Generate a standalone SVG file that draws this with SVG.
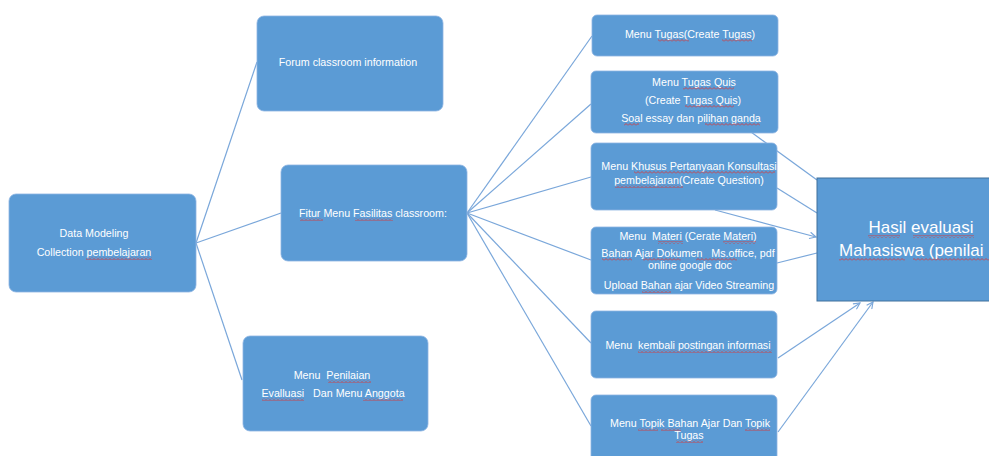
<svg xmlns="http://www.w3.org/2000/svg" width="989" height="456" viewBox="0 0 989 456">
<style>
.n{fill:#5b9bd5;stroke:#8db4e2;stroke-width:0.8}
.t{font-family:"Liberation Sans",Arial,sans-serif;font-size:10.7px;fill:#ffffff;text-anchor:middle;white-space:pre}
.c{stroke:#7aa7da;stroke-width:1.2;fill:none}
.big{font-size:17px}
.sq{fill:url(#wave)}
</style>
<defs>
<marker id="ah" viewBox="0 0 10 10" refX="9" refY="5" markerWidth="8" markerHeight="8" orient="auto" markerUnits="userSpaceOnUse">
<path d="M1,1 L9,5 L1,9" fill="none" stroke="#7aa7da" stroke-width="1.4"/>
</marker>
<pattern id="wave" width="4" height="3" patternUnits="userSpaceOnUse">
<path d="M0,2.5 L2,0.5 L4,2.5" fill="none" stroke="#e0302c" stroke-width="0.8"/>
</pattern>
</defs>
<rect width="989" height="456" fill="#ffffff"/>
<g id="connectors">
<line class="c" x1="196" y1="243" x2="257" y2="62"/>
<line class="c" x1="196" y1="243" x2="281" y2="213"/>
<line class="c" x1="196" y1="243" x2="242" y2="380"/>
<line class="c" x1="467" y1="213" x2="592" y2="36"/>
<line class="c" x1="467" y1="213" x2="591" y2="104"/>
<line class="c" x1="467" y1="213" x2="591" y2="177"/>
<line class="c" x1="467" y1="213" x2="591" y2="260"/>
<line class="c" x1="467" y1="213" x2="591" y2="343"/>
<line class="c" x1="467" y1="213" x2="591" y2="426"/>
<line class="c" x1="740" y1="124" x2="817" y2="180"/>
<line class="c" x1="777" y1="188" x2="817" y2="213"/>
<line class="c" x1="715" y1="210" x2="816" y2="237" marker-end="url(#ah)"/>
<line class="c" x1="777" y1="263" x2="817" y2="253"/>
<line class="c" x1="778" y1="358" x2="860" y2="303" marker-end="url(#ah)"/>
<line class="c" x1="778" y1="432" x2="873" y2="302" marker-end="url(#ah)"/>
</g>
<g id="data-modeling">
<rect class="n" x="9" y="194" width="187" height="98" rx="7"/>
<text class="t" x="94" y="237">Data Modeling</text>
<text class="t" x="94" y="256">Collection pembelajaran</text>
<rect class="sq" x="86" y="257" width="66" height="3"/>
</g>
<g id="forum">
<rect class="n" x="257" y="16" width="186" height="95" rx="7"/>
<text class="t" x="348" y="66">Forum classroom information</text>
</g>
<g id="fitur">
<rect class="n" x="281" y="165" width="186" height="96" rx="7"/>
<text class="t" x="373" y="217">Fitur Menu Fasilitas classroom:</text>
<rect class="sq" x="300" y="218" width="23" height="3"/>
<rect class="sq" x="355" y="218" width="38" height="3"/>
</g>
<g id="penilaian">
<rect class="n" x="243" y="336" width="185" height="95" rx="7"/>
<text class="t" x="332" y="379">Menu  Penilaian</text>
<text class="t" x="333" y="397">Evalluasi   Dan Menu Anggota</text>
<rect class="sq" x="328" y="380" width="43" height="3"/>
<rect class="sq" x="262" y="398" width="42" height="3"/>
<rect class="sq" x="363" y="398" width="40" height="3"/>
</g>
<g id="tugas">
<rect class="n" x="592" y="15" width="186" height="41" rx="5"/>
<text class="t" x="690" y="38">Menu Tugas(Create Tugas)</text>
<rect class="sq" x="658" y="39" width="31" height="3"/>
<rect class="sq" x="722" y="39" width="30" height="3"/>
</g>
<g id="quis">
<rect class="n" x="591" y="71" width="187" height="62" rx="5"/>
<text class="t" x="694" y="86">Menu Tugas Quis</text>
<text class="t" x="693" y="104">(Create Tugas Quis)</text>
<text class="t" x="691" y="122">Soal essay dan pilihan ganda</text>
<rect class="sq" x="683" y="87" width="51" height="3"/>
<rect class="sq" x="685" y="105" width="49" height="3"/>
<rect class="sq" x="624" y="123" width="15" height="3"/>
<rect class="sq" x="705" y="123" width="55" height="3"/>
</g>
<g id="khusus">
<rect class="n" x="591" y="143" width="186" height="67" rx="5"/>
<text class="t" x="689" y="170">Menu Khusus Pertanyaan Konsultasi</text>
<text class="t" x="689" y="184">pembelajaran(Create Question)</text>
<rect class="sq" x="634" y="171" width="141" height="3"/>
<rect class="sq" x="615" y="185" width="68" height="3"/>
</g>
<g id="materi">
<rect class="n" x="591" y="227" width="186" height="67" rx="5"/>
<text class="t" x="688" y="240">Menu  Materi (Cerate Materi)</text>
<text class="t" x="688" y="257">Bahan Ajar Dokumen   Ms.office, pdf</text>
<text class="t" x="690" y="269">online google doc</text>
<text class="t" x="689" y="289">Upload Bahan ajar Video Streaming</text>
<rect class="sq" x="658" y="241" width="25" height="3"/>
<rect class="sq" x="723" y="241" width="33" height="3"/>
<rect class="sq" x="602" y="258" width="30" height="3"/>
<rect class="sq" x="643" y="258" width="38" height="3"/>
<rect class="sq" x="696" y="258" width="41" height="3"/>
<rect class="sq" x="642" y="290" width="29" height="3"/>
</g>
<g id="kembali">
<rect class="n" x="591" y="311" width="186" height="67" rx="5"/>
<text class="t" x="688" y="349">Menu  kembali postingan informasi</text>
<rect class="sq" x="638" y="350" width="134" height="3"/>
</g>
<g id="topik">
<rect class="n" x="591" y="395" width="186" height="75" rx="5"/>
<text class="t" x="690" y="427">Menu Topik Bahan Ajar Dan Topik</text>
<text class="t" x="689" y="439">Tugas</text>
<rect class="sq" x="638" y="428" width="20" height="3"/>
<rect class="sq" x="661" y="428" width="20" height="3"/>
<rect class="sq" x="745" y="428" width="25" height="3"/>
<rect class="sq" x="676" y="440" width="27" height="3"/>
</g>
<g id="hasil">
<rect x="817" y="178" width="190" height="123" fill="#5b9bd5" stroke="#41719c" stroke-width="1"/>
<text class="t big" x="921" y="233">Hasil evaluasi</text>
<text class="t big" x="839" y="256" style="text-anchor:start">Mahasiswa (penilai</text>
<rect class="sq" x="868" y="235" width="32" height="3"/>
<rect class="sq" x="913" y="235" width="61" height="3"/>
<rect class="sq" x="839" y="258" width="66" height="3"/>
<rect class="sq" x="913" y="258" width="76" height="3"/>
</g>
</svg>
